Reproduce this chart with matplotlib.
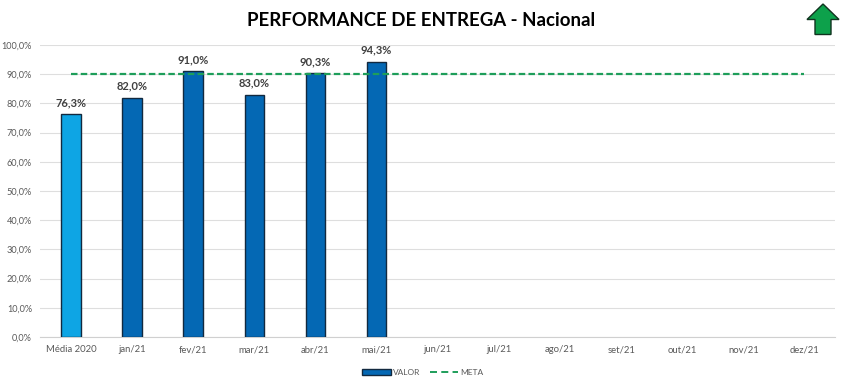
import matplotlib
matplotlib.use("Agg")
import matplotlib.pyplot as plt
from matplotlib.patches import Polygon
from matplotlib.lines import Line2D
from matplotlib.patches import Patch

categories = ["Média 2020", "jan/21", "fev/21", "mar/21", "abr/21", "mai/21", "jun/21",
              "jul/21", "ago/21", "set/21", "out/21", "nov/21", "dez/21"]
valor = [76.3, 82.0, 91.0, 83.0, 90.3, 94.3]
meta = [90.0] * 13
title = "PERFORMANCE DE ENTREGA - Nacional"

W, H = 846, 381
plt.rcParams["font.family"] = ["Lato", "DejaVu Sans"]
fig = plt.figure(figsize=(W / 100, H / 100), dpi=100, facecolor="white")
ax = fig.add_axes([40.4 / W, 1 - 337 / H, (835 - 40.4) / W, (337 - 45) / H])

colors = ["#0EA5E4"] + ["#0468B4"] * 5
x = list(range(len(valor)))
bars = ax.bar(x, valor, width=0.32, color=colors, edgecolor="#12293F", linewidth=1.0, zorder=3)
for xi, v in zip(x, valor):
    ax.annotate(f"{v:.1f}%".replace(".", ","), (xi, v), xytext=(0, 4.2), textcoords="offset points",
                ha="center", va="bottom", fontsize=8.0, fontweight="bold", color="#404040", zorder=5)
ax.plot(range(len(meta)), meta, color="#1E9E5A", lw=1.6, dashes=(2.93, 1.45), zorder=4)

ax.set_xlim(-0.5, 12.5)
ax.set_ylim(0, 100)
ax.set_yticks(range(0, 101, 10))
ax.set_yticklabels([f"{t},0%" for t in range(0, 101, 10)], fontsize=6.6, color="#595959")
ax.set_xticks(range(len(categories)))
ax.set_xticklabels(categories, fontsize=6.8, color="#595959")
ax.tick_params(length=0, axis="both")
ax.tick_params(axis="x", pad=6)
ax.tick_params(axis="y", pad=6)
ax.grid(axis="y", color="#DEDEDE", lw=0.8, zorder=0)
for s in ["top", "left", "right"]:
    ax.spines[s].set_visible(False)
ax.spines["bottom"].set_color("#D0D0D0")
ax.spines["bottom"].set_linewidth(0.8)

fig.text(421 / W, 1 - 20 / H, title, ha="center", va="center", fontsize=13.4, fontweight="bold", color="black")

arrow_px = [(823, 4), (807, 19.5), (815, 19.5), (815, 34.5), (831, 34.5), (831, 19.5), (839, 19.5)]
fig.add_artist(Polygon([(px / W, 1 - py / H) for px, py in arrow_px], closed=True, transform=fig.transFigure,
                       facecolor="#0DA14B", edgecolor="#10331F", linewidth=1.0))

handles = [Patch(facecolor="#0468B4", edgecolor="#12293F", linewidth=1.0, label="VALOR"),
           Line2D([0], [0], color="#1E9E5A", lw=1.4, dashes=(3.6, 2.2), label="META")]
fig.legend(handles=handles, loc="center", bbox_to_anchor=(423 / W, 1 - 372.5 / H), ncol=2, frameon=False,
           fontsize=6.0, labelcolor="#595959", handlelength=3.4, handleheight=0.7, handletextpad=0.3, columnspacing=1.1,
           borderpad=0)

fig.savefig("out.png", dpi=100, facecolor="white")
